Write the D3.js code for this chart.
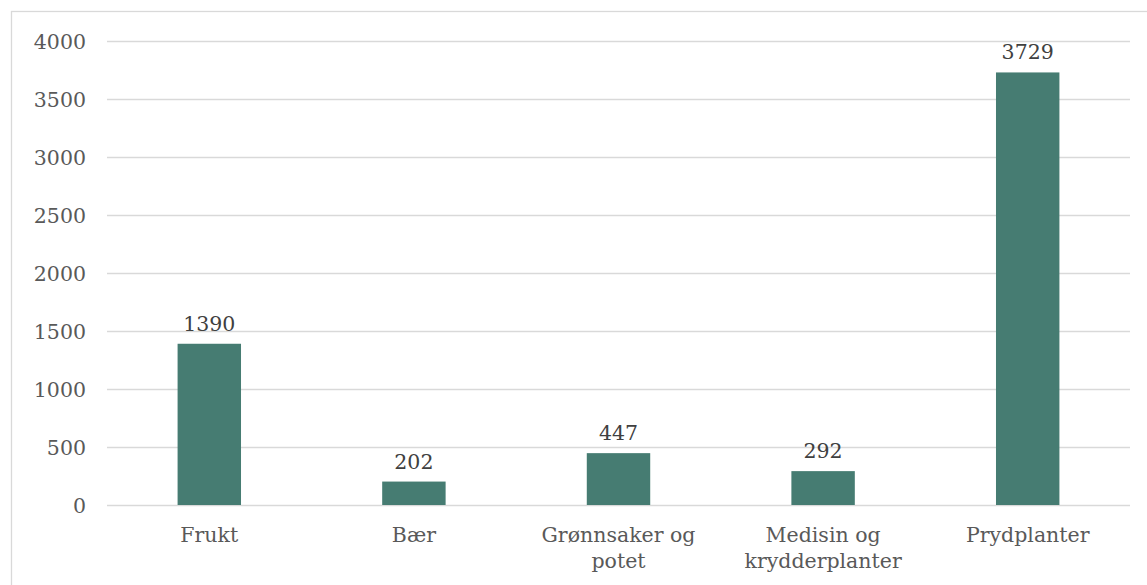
<!DOCTYPE html>
<html><head><meta charset="utf-8">
<script src="https://cdn.jsdelivr.net/npm/d3@7"></script>
<style>body{margin:0;background:#fff}svg{display:block}</style>
</head><body><svg id="c" width="1147" height="585"></svg>
<script>
const categories = [["Frukt"],["Bær"],["Grønnsaker og","potet"],["Medisin og","krydderplanter"],["Prydplanter"]];
const values = [1390, 202, 447, 292, 3729];
const yTicks = [0,500,1000,1500,2000,2500,3000,3500,4000];

const svg = d3.select("#c");
const font = "'DejaVu Serif', serif";
const fs = 20.5;
svg.append("rect").attr("x",11.5).attr("y",11.5).attr("width",1160).attr("height",600)
  .attr("fill","#fff").attr("stroke","#d9d9d9").attr("stroke-width",1.3);

const x = d3.scaleBand().domain(d3.range(categories.length)).range([107,1130]).paddingInner(0.69).paddingOuter(0.345);
const y = d3.scaleLinear().domain([0,4000]).range([505,41]);

const g = svg.append("g");
g.selectAll("line.grid").data(yTicks).join("line").attr("class","grid")
  .attr("x1",107).attr("x2",1130).attr("y1",d=>Math.round(y(d))+0.5).attr("y2",d=>Math.round(y(d))+0.5)
  .attr("stroke","#d9d9d9").attr("stroke-width",1.3);

const yAxis = d3.axisLeft(y).tickValues(yTicks).tickFormat(d3.format("d")).tickSize(0).tickPadding(0);
const ya = svg.append("g").attr("transform","translate(86,0)").call(yAxis);
ya.select(".domain").remove();
ya.selectAll("text").attr("font-family",font).attr("font-size",fs).attr("fill","#595959").attr("dy","0.35em");

g.selectAll("rect.bar").data(values).join("rect").attr("class","bar")
  .attr("x",(d,i)=>x(i)).attr("width",x.bandwidth())
  .attr("y",d=>y(d)).attr("height",d=>y(0)-y(d)).attr("fill","#467c72");

g.selectAll("text.lbl").data(values).join("text").attr("class","lbl")
  .attr("x",(d,i)=>x(i)+x.bandwidth()/2).attr("y",d=>y(d)-13)
  .attr("text-anchor","middle").attr("font-family",font).attr("font-size",fs).attr("fill","#404040")
  .text(d=>d);

const cg = g.selectAll("text.cat").data(categories).join("text").attr("class","cat")
  .attr("x",(d,i)=>x(i)+x.bandwidth()/2).attr("y",542)
  .attr("text-anchor","middle").attr("font-family",font).attr("font-size",fs).attr("fill","#595959");
cg.selectAll("tspan").data((d,i)=>d.map(t=>({t,i}))).join("tspan")
  .attr("x",d=>x(d.i)+x.bandwidth()/2).attr("dy",(d,j)=>j===0?0:26).text(d=>d.t);
</script></body></html>
